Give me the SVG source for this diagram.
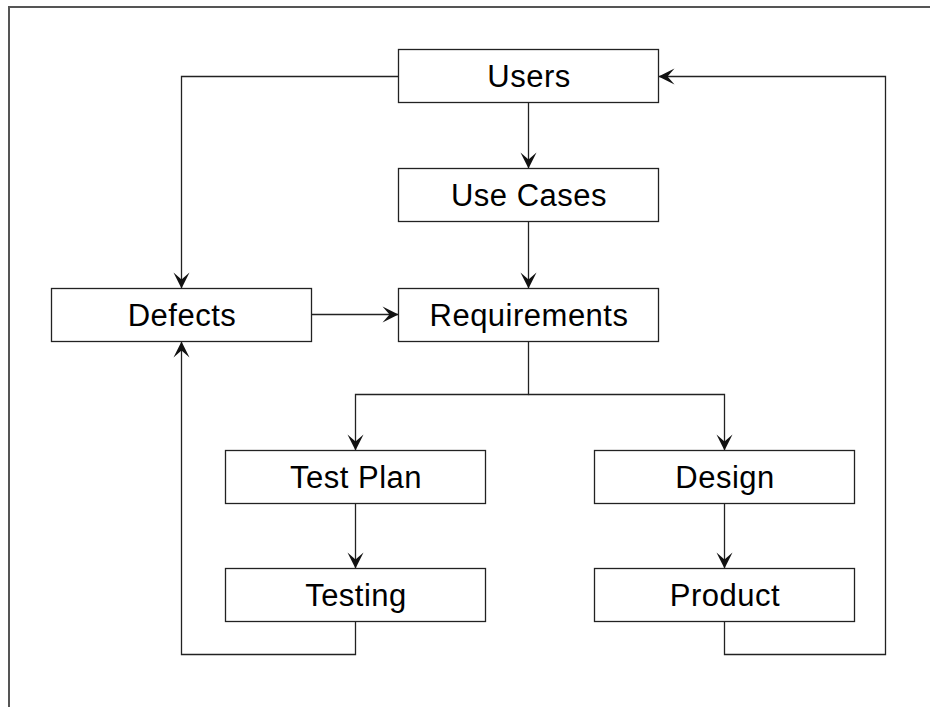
<svg xmlns="http://www.w3.org/2000/svg" width="930" height="707" viewBox="0 0 930 707">
<style>
.box{fill:#fff;stroke:#222;stroke-width:1.3}
.lbl{font-family:"Liberation Sans",Arial,sans-serif;font-size:31px;letter-spacing:0.5px;fill:#000;text-anchor:middle}
.conn{fill:none;stroke:#222;stroke-width:1.3}
.frame{fill:none;stroke:#555;stroke-width:2}
</style>
<defs>
<marker id="ah" viewBox="-17 -9 17 18" markerWidth="17" markerHeight="18" refX="0" refY="0" orient="auto" markerUnits="userSpaceOnUse">
<path d="M0,0 L-16,-8 L-9,0 L-16,8 Z" fill="#111"/>
</marker>
</defs>
<rect width="930" height="707" fill="#fff"/>
<path class="frame" d="M9,707 V7 H930"/>
<g id="connectors">
<path class="conn" d="M398.5,76.5 H181.5 V288.5" marker-end="url(#ah)"/>
<path class="conn" d="M528.5,102.5 V168.5" marker-end="url(#ah)"/>
<path class="conn" d="M528.5,221.5 V288.5" marker-end="url(#ah)"/>
<path class="conn" d="M311.5,314.5 H398.5" marker-end="url(#ah)"/>
<path class="conn" d="M528.5,341.5 V394.5 H355.5 V450.5" marker-end="url(#ah)"/>
<path class="conn" d="M528.5,394.5 H724.5 V450.5" marker-end="url(#ah)"/>
<path class="conn" d="M355.5,503.5 V568.5" marker-end="url(#ah)"/>
<path class="conn" d="M724.5,503.5 V568.5" marker-end="url(#ah)"/>
<path class="conn" d="M355.5,621.5 V654.5 H181.5 V341.5" marker-end="url(#ah)"/>
<path class="conn" d="M724.5,621.5 V654.5 H885.5 V76.5 H658.5" marker-end="url(#ah)"/>
</g>
<g id="users"><rect class="box" x="398.5" y="49.5" width="260" height="53"/><text class="lbl" x="529" y="87">Users</text></g>
<g id="usecases"><rect class="box" x="398.5" y="168.5" width="260" height="53"/><text class="lbl" x="529" y="206">Use Cases</text></g>
<g id="defects"><rect class="box" x="51.5" y="288.5" width="260" height="53"/><text class="lbl" x="182" y="326">Defects</text></g>
<g id="requirements"><rect class="box" x="398.5" y="288.5" width="260" height="53"/><text class="lbl" x="529" y="326">Requirements</text></g>
<g id="testplan"><rect class="box" x="225.5" y="450.5" width="260" height="53"/><text class="lbl" x="356" y="488">Test Plan</text></g>
<g id="testing"><rect class="box" x="225.5" y="568.5" width="260" height="53"/><text class="lbl" x="356" y="606">Testing</text></g>
<g id="design"><rect class="box" x="594.5" y="450.5" width="260" height="53"/><text class="lbl" x="725" y="488">Design</text></g>
<g id="product"><rect class="box" x="594.5" y="568.5" width="260" height="53"/><text class="lbl" x="725" y="606">Product</text></g>
</svg>
